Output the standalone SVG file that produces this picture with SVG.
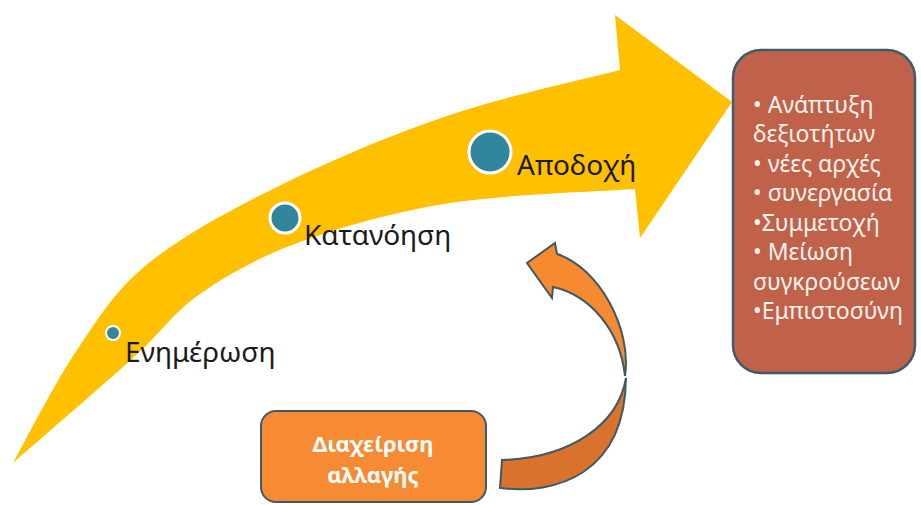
<svg xmlns="http://www.w3.org/2000/svg" width="921" height="505" viewBox="0 0 921 505">
<style>
.lbl{font-family:"Noto Sans","Liberation Sans",sans-serif;font-size:28px;fill:#1a1a1a}
.dot{fill:#31859C;stroke:#ffffff}
.box{font-family:"Noto Sans","Liberation Sans",sans-serif;font-size:23px;fill:#FFF4EE}
.mg{font-family:"Noto Sans","Liberation Sans",sans-serif;font-size:22px;font-weight:bold;fill:#ffffff;text-anchor:middle}
</style>
<rect width="921" height="505" fill="#ffffff"/>
<g id="connectors">
<path id="big-arrow" fill="#FFC000" d="M13,463 C23.7,444.2 54.2,383.5 77,350 C99.8,316.5 115.3,289.8 150,262 C184.7,234.2 235,207.5 285,183 C335,158.5 394.2,133.8 450,115 C505.8,96.2 591.7,77.5 620,70 L615,15 L732,102 L640,238 L635,189 C604.2,191.3 505.8,194.2 450,203 C394.2,211.8 341.7,226.8 300,242 C258.3,257.2 227.8,274.7 200,294 C172.2,313.3 164.2,329.8 133,358 C101.8,386.2 33,445.5 13,463 Z"/>
<path id="curve-lower" fill="#D8722C" stroke="#3E5A66" stroke-width="2" d="M500,488 C555,495 625,475 626,378 C618,425 570,458 502,460 Z"/>
<path id="curve-upper" fill="#F58A30" stroke="#3E5A66" stroke-width="2" d="M625,376 C632,330 600,268 557,254 L555,243 L527,263 L552,298 L553,287 C590,295 620,330 625,376 Z"/>
</g>
<g id="node-enimerosi">
<circle class="dot" cx="113" cy="333" r="7" stroke-width="2"/>
<text class="lbl" x="125" y="362">Ενημέρωση</text>
</g>
<g id="node-katanoisi">
<circle class="dot" cx="285" cy="218" r="15" stroke-width="3"/>
<text class="lbl" x="304" y="245">Κατανόηση</text>
</g>
<g id="node-apodoxi">
<circle class="dot" cx="490" cy="152" r="21" stroke-width="3"/>
<text class="lbl" x="517" y="175">Αποδοχή</text>
</g>
<g id="node-results">
<rect x="733" y="50" width="182" height="323" rx="28" fill="#C0614A" stroke="#3D5B6E" stroke-width="2.5"/>
<text class="box" x="753" y="113">• Ανάπτυξη</text>
<text class="box" x="753" y="142">δεξιοτήτων</text>
<text class="box" x="753" y="172">• νέες αρχές</text>
<text class="box" x="753" y="201">• συνεργασία</text>
<text class="box" x="753" y="231">•Συμμετοχή</text>
<text class="box" x="753" y="260">• Μείωση</text>
<text class="box" x="753" y="290">συγκρούσεων</text>
<text class="box" x="753" y="319">•Εμπιστοσύνη</text>
</g>
<g id="node-management">
<rect x="261" y="411" width="225" height="91" rx="15" fill="#F68B33" stroke="#3E5A66" stroke-width="2"/>
<text class="mg" x="373" y="452">Διαχείριση</text>
<text class="mg" x="373" y="483">αλλαγής</text>
</g>
</svg>
